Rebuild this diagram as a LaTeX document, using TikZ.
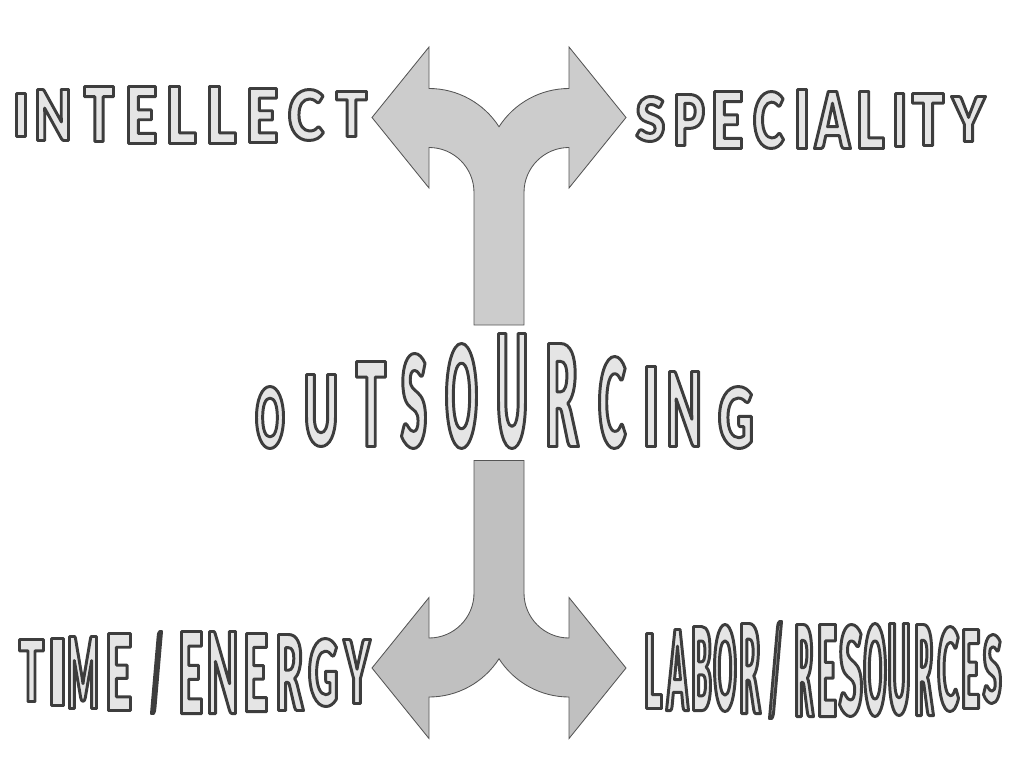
\documentclass[tikz,border=0pt]{standalone}
\usepackage{fontspec}
\usepackage{tikz}
\IfFontExistsTF{Lato Black}{\newfontfamily\artfont{Lato Black}}
  {\newfontfamily\artfont{DejaVu Sans Bold}}
\definecolor{forkline}{HTML}{555555}
\definecolor{forktop}{HTML}{CCCCCC}
\definecolor{forkbot}{HTML}{C0C0C0}
\newbox\artglyphbox
\newdimen\artlsb \newdimen\artrsb \newdimen\artht \newdimen\artwd
\tikzset{
  letter/.style={inner sep=0pt,outer sep=0pt},
  fork/.style={draw=forkline,line width=0.6pt,line join=miter}
}
% #1 glyph, #2/#3 width/height in pixels: outlined letter of that size
\newcommand\artglyph[3]{%
  \artfont\fontsize{10pt}{12pt}\selectfont
  \setbox\artglyphbox=\hbox{#1}%
  \artlsb=\XeTeXglyphbounds1 \XeTeXcharglyph`#1\relax
  \artrsb=\XeTeXglyphbounds3 \XeTeXcharglyph`#1\relax
  \artht=\ht\artglyphbox \advance\artht by \dp\artglyphbox
  \artwd=\wd\artglyphbox \advance\artwd by -\artlsb \advance\artwd by -\artrsb
  \pgfmathsetmacro\gsize{10*(#3-3)*0.7113/\the\artht}%
  \pgfmathsetmacro\gstretch{(#2-3)*0.7113/(\the\artwd*\gsize/10)}%
  \pgfmathsetlengthmacro\glsb{\the\artlsb*\gsize/10*\gstretch}%
  \pgfmathsetlengthmacro\grsb{\the\artrsb*\gsize/10*\gstretch}%
  \fontsize{\gsize pt}{\gsize pt}\selectfont
  \addfontfeature{FakeStretch=\gstretch}\kern-\glsb
  \special{pdf:literal direct 2 Tr 2.1 w 1 j 0.24 0.24 0.24 RG 0.9 0.9 0.9 rg}#1%
  \special{pdf:literal direct 0 Tr 0 g 0 G}\kern-\grsb
}
% #1 glyph, #2 node name, #3/#4 left/right, #5/#6 top/bottom (pixels)
\newcommand\artletter[6]{%
  \pgfmathsetmacro\gw{#4-#3}\pgfmathsetmacro\gh{#6-#5}%
  \node[letter] (#2) at ({(#3+#4)/2},{(#5+#6)/2}) {\artglyph{#1}{\gw}{\gh}};%
}
\begin{document}
\begin{tikzpicture}[x=0.025cm,y=-0.025cm]
\useasboundingbox (0,0) rectangle (1024,768);
% the fork, drawn once and mirrored
\def\fork{(372,117.5) -- (429,47) -- (429,88.5)
  arc (-90:-32.7:83.2) arc (-147.3:-90:83.2)
  -- (569,47) -- (626,117.5) -- (569,188) -- (569,147.5)
  arc (-90:-180:45) -- (524,325) -- (474,325) -- (474,192.5)
  arc (0:-90:45) -- (429,188) -- cycle}
\draw[fork,fill=forktop] \fork;
\begin{scope}[shift={(0,785.5)},yscale=-1]
  \draw[fork,fill=forkbot] \fork;
\end{scope}
% words
\foreach \c/\xl/\xr/\yt/\yb [count=\i] in {O/255/285/385/450,U/305/337/373/448,
  T/355/387/360/448,S/400/427/352/450,O/445/478/342/450,U/497/527/332/450,
  R/547/580/342/448,C/598/627/355/450,I/645/657/365/448,N/668/700/370/448,
  G/718/753/385/450}
  {\expandafter\artletter\expandafter{\c}{out-\i}{\xl}{\xr}{\yt}{\yb}}
\foreach \c/\xl/\xr/\yt/\yb [count=\i] in {I/15/27/92/138,N/36/70/88/142,
  T/83/115/85/143,E/127/157/85/145,L/168/197/85/145,L/208/237/85/145,
  E/248/278/87/144,C/288/325/88/142,T/335/368/90/138}
  {\expandafter\artletter\expandafter{\c}{int-\i}{\xl}{\xr}{\yt}{\yb}}
\foreach \c/\xl/\xr/\yt/\yb [count=\i] in {S/635/665/95/143,P/675/705/93/147,
  E/713/743/90/150,C/753/785/90/150,I/796/808/88/150,A/813/852/90/150,
  L/858/885/90/150,I/894/905/92/148,T/911/945/92/147,Y/950/987/95/143}
  {\expandafter\artletter\expandafter{\c}{spe-\i}{\xl}{\xr}{\yt}{\yb}}
\foreach \c/\xl/\xr/\yt/\yb [count=\i] in {T/18/45/638/703,I/50/65/637/707,
  M/68/98/635/710,E/107/132/632/712,{/}/150/163/630/715,E/180/203/630/715,
  N/208/237/630/715,E/245/268/632/713,R/277/305/633/712,G/308/338/637/708,
  Y/342/372/638/705}
  {\expandafter\artletter\expandafter{\c}{tim-\i}{\xl}{\xr}{\yt}{\yb}}
\foreach \c/\xl/\xr/\yt/\yb [count=\i] in {L/645/663/632/710,A/665/690/628/712,
  B/692/712/625/712,O/713/737/623/713,R/740/762/622/715,{/}/768/783/620/720,
  R/795/815/623/718,E/818/837/623/718,S/838/863/623/718,O/863/887/622/718,
  U/888/910/622/717,R/915/935/623/717,C/937/960/625/713,E/962/980/628/710,
  S/982/1002/633/705}
  {\expandafter\artletter\expandafter{\c}{lab-\i}{\xl}{\xr}{\yt}{\yb}}
\end{tikzpicture}
\end{document}
